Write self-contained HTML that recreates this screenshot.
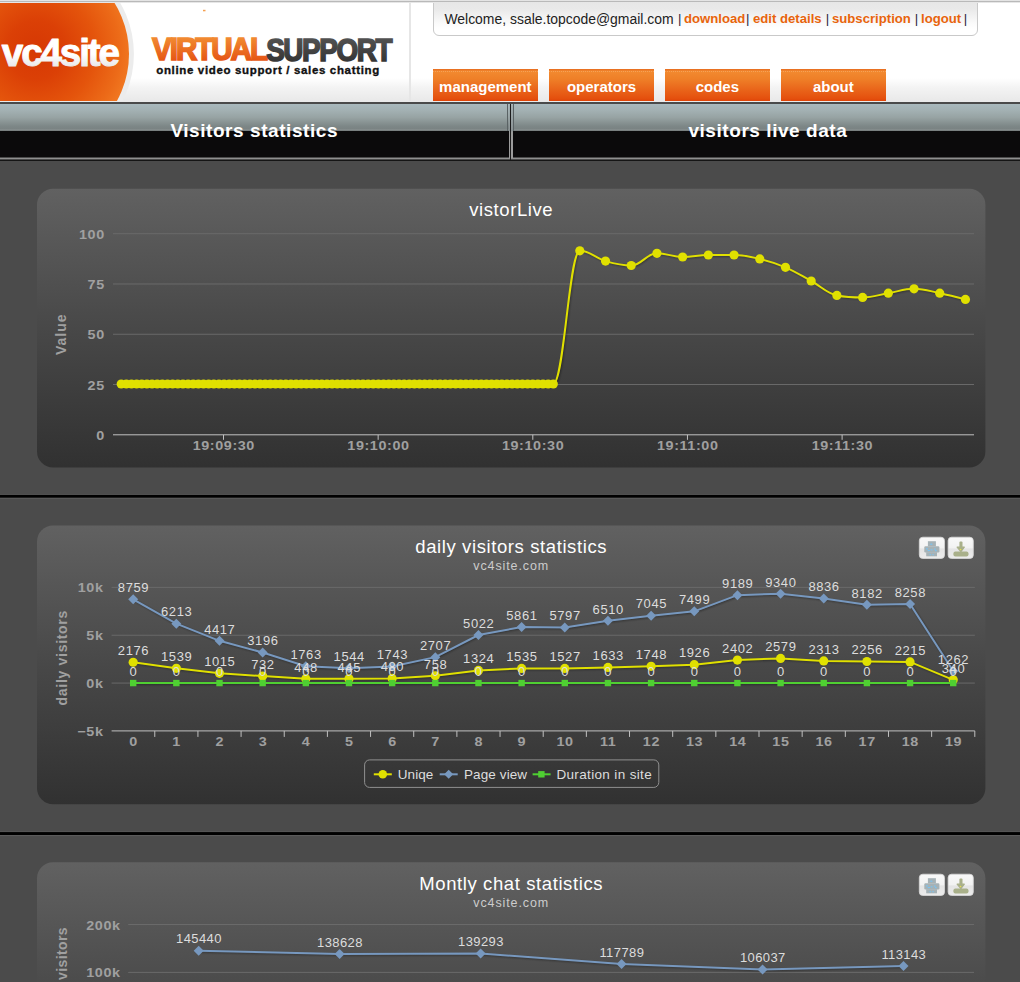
<!DOCTYPE html>
<html><head><meta charset="utf-8"><title>vc4site</title>
<style>
html,body{margin:0;padding:0;}
body{width:1020px;height:982px;overflow:hidden;background:#4b4b4b;position:relative;font-family:"Liberation Sans",sans-serif;}
.abs{position:absolute;}
#header{left:0;top:0;width:1020px;height:102px;background:linear-gradient(#fff 0,#fff 78px,#f3f3f3 88px,#e9e9e9 101px);}
#topline{left:0;top:0;width:1020px;height:3px;background:linear-gradient(#e6e6e6 0,#e2e2e2 1px,#b9b9b9 1.5px,#d8d8d8 2.2px,#fff 3px);}
#logo{left:0;top:0;}
#welcome{left:433px;top:-6px;width:544.5px;height:41.8px;border:1px solid #c9c9c9;border-radius:6px;background:linear-gradient(#e4e4e4 0,#e9e9e9 14px,#fafafa 28px,#fff 34px);box-sizing:border-box;}
.wtn{top:10.5px;white-space:nowrap;font-size:13.95px;color:#222;}
.wtb{top:10.9px;white-space:nowrap;font-size:13.6px;font-weight:bold;color:#e8640c;transform:scaleX(0.967);transform-origin:0 0;}
.wts{top:10.6px;font-size:13.2px;color:#2a2440;}
.nav{top:69.2px;height:31.8px;width:104.7px;background:linear-gradient(#e66a1e 0,#f28a30 7%,#ef8028 30%,#ea681c 60%,#e4500e 92%,#e04408 100%);color:#fff;font-weight:bold;font-size:15px;text-align:center;line-height:35.3px;}
.nav:before{content:"";position:absolute;left:0;right:0;top:2px;height:1px;border-top:1px dotted rgba(250,180,120,0.55);}
#darkline{left:0;top:102.4px;width:1020px;height:1.7px;background:#4a4a4a;}
#lightline{left:0;top:101px;width:1020px;height:1.4px;background:#eaeaea;}
.tab{top:104px;height:56px;box-sizing:border-box;}
.tabg{position:absolute;left:0;right:0;top:0;height:26.5px;background:linear-gradient(#a9b9bd 0,#a2b0b2 25%,#97a3a3 50%,#7d8787 82%,#7a8383 92%,#8c9494 97%,#5a5f5f 100%);}
.tabb{position:absolute;left:0;right:0;top:26.5px;height:26.5px;background:#0b0a0b;}
.tabbd{position:absolute;left:0;right:0;top:53.8px;height:1.7px;background:#8f8f8f;}
.vl{position:absolute;top:0.8px;width:1.7px;height:54.3px;background:linear-gradient(#a4b0b2,#8a9294 48%,#9c9c9c 50%,#9c9c9c);}
.vd{position:absolute;top:0;width:1.2px;height:26.5px;background:#5a6264;}
.tabt{position:absolute;left:0;right:0;top:15.7px;text-align:center;color:#fff;font-weight:bold;font-size:19px;letter-spacing:0.56px;white-space:nowrap;}
svg.charts{position:absolute;left:0;top:0;}
</style></head>
<body>
<div id="header" class="abs"></div>
<svg id="logo" class="abs" width="420" height="102" viewBox="0 0 420 102">
<defs>
<radialGradient id="og" cx="36" cy="50" r="98" gradientUnits="userSpaceOnUse"><stop offset="0" stop-color="#d63804"/><stop offset="0.3" stop-color="#db4006"/><stop offset="0.6" stop-color="#e4540c"/><stop offset="0.85" stop-color="#ec6a18"/><stop offset="1" stop-color="#f27a22"/></radialGradient>
<linearGradient id="vt" x1="0" y1="0" x2="0" y2="1"><stop offset="0" stop-color="#f59a3a"/><stop offset="1" stop-color="#e2460c"/></linearGradient>
<linearGradient id="st" x1="0" y1="0" x2="0" y2="1"><stop offset="0" stop-color="#5a5a5a"/><stop offset="1" stop-color="#2e2e2e"/></linearGradient>
<linearGradient id="wt" x1="0" y1="0" x2="0" y2="1"><stop offset="0.55" stop-color="#fff"/><stop offset="1" stop-color="#dcdcdc"/></linearGradient>
<clipPath id="hc"><rect x="0" y="2" width="420" height="99.2"/></clipPath>
</defs>
<g clip-path="url(#hc)">
<circle cx="31.4" cy="54" r="102.5" fill="#ececec"/>
<circle cx="31.4" cy="54" r="97.6" fill="url(#og)"/>
</g>
<text x="1.8" y="65.5" font-family="Liberation Sans" font-weight="bold" font-size="38.6" letter-spacing="-2.1" fill="url(#wt)" stroke="url(#wt)" stroke-width="1.0" stroke-linejoin="round">vc4site</text>
<text x="152" y="60" font-family="Liberation Sans" font-weight="bold" font-size="31.5" letter-spacing="-2.2" fill="url(#vt)" stroke="url(#vt)" stroke-width="1.6" textLength="114" lengthAdjust="spacingAndGlyphs">VIRTUAL</text>
<text x="266.2" y="60.5" font-family="Liberation Sans" font-weight="bold" font-size="31.5" letter-spacing="-1.6" fill="url(#st)" stroke="url(#st)" stroke-width="1.6" textLength="124.8" lengthAdjust="spacingAndGlyphs">SUPPORT</text>
<text x="156.2" y="73.9" font-family="Liberation Sans" font-weight="bold" font-size="11.5" fill="#111" stroke="#111" stroke-width="0.35" textLength="223" lengthAdjust="spacing">online video support / sales chatting</text>
<rect x="203" y="9.8" width="2.5" height="1.5" fill="#f5a050"/>
</svg>
<div class="abs" style="left:409.4px;top:2px;width:1.6px;height:99px;background:#e6e6e6"></div>
<div id="welcome" class="abs"></div>
<div class="wtn abs" style="left:444.4px">Welcome, ssale.topcode@gmail.com</div><div class="wts abs" style="left:677.9px">|</div><div class="wtb abs" style="left:683.9px">download</div><div class="wts abs" style="left:746.1px">|</div><div class="wtb abs" style="left:753.1px">edit details</div><div class="wts abs" style="left:825.7px">|</div><div class="wtb abs" style="left:832px">subscription</div><div class="wts abs" style="left:914.7px">|</div><div class="wtb abs" style="left:920.9px">logout</div><div class="wts abs" style="left:963.7px">|</div>
<div id="topline" class="abs"></div>
<div class="nav abs" style="left:433px">management</div>
<div class="nav abs" style="left:549.2px">operators</div>
<div class="nav abs" style="left:665px">codes</div>
<div class="nav abs" style="left:781px">about</div>
<div id="lightline" class="abs"></div>
<div id="darkline" class="abs"></div>
<div class="tab abs" style="left:0;width:510.2px;"><div class="tabg"></div><div class="tabb"></div><div class="tabt" style="left:-1.8px">Visitors statistics</div><div class="vd" style="left:507.3px"></div><div class="vl" style="left:508.5px"></div><div class="tabbd"></div></div>
<div class="abs" style="left:510.2px;top:104px;width:1.1px;height:56px;background:#1c1c1c"></div>
<div class="tab abs" style="left:511.3px;width:508.7px;"><div class="tabg"></div><div class="tabb"></div><div class="tabt" style="left:4.5px;top:16.1px">visitors live data</div><div class="vl" style="left:0"></div><div class="vd" style="left:1.7px"></div><div class="tabbd"></div></div>
<div class="abs" style="left:0;top:159.5px;width:1020px;height:1.2px;background:#151515"></div>
<svg class="charts" width="1020" height="982" viewBox="0 0 1020 982"><defs><linearGradient id="g" x1="0" y1="0" x2="0" y2="1"><stop offset="0" stop-color="#616161"/><stop offset="0.5" stop-color="#484848"/><stop offset="1" stop-color="#313131"/></linearGradient><linearGradient id="bt" x1="0" y1="0" x2="0" y2="1"><stop offset="0" stop-color="#f9f9f9"/><stop offset="0.5" stop-color="#f2f2f2"/><stop offset="0.55" stop-color="#e4e4e4"/><stop offset="1" stop-color="#ececec"/></linearGradient></defs><rect x="0" y="494" width="1020" height="1" fill="#585858"/><rect x="0" y="494.9" width="1020" height="2.9" fill="#000"/><rect x="0" y="497.8" width="1020" height="1.1" fill="#5a5a5a"/><rect x="0" y="831.2" width="1020" height="1" fill="#585858"/><rect x="0" y="832.1" width="1020" height="2.9" fill="#000"/><rect x="0" y="835" width="1020" height="1.1" fill="#5a5a5a"/><rect x="37" y="188.7" width="948.4" height="278.7" rx="16" ry="16" fill="url(#g)"/><text x="511.2" y="215.9" font-family="Liberation Sans" font-size="18.5" letter-spacing="0.6" fill="#fff" text-anchor="middle">vistorLive</text><rect x="113" y="233.2" width="861" height="1" fill="#6a6a6a"/><rect x="113" y="283.48" width="861" height="1" fill="#6a6a6a"/><rect x="113" y="333.75" width="861" height="1" fill="#6a6a6a"/><rect x="113" y="384.02" width="861" height="1" fill="#6a6a6a"/><rect x="113" y="434.3" width="861" height="1" fill="#c0c0c0"/><text transform="translate(104.8 440) scale(1.15 1)" font-family="Liberation Sans" font-size="12.5" font-weight="bold" letter-spacing="0.52" fill="#a0a0a0" text-anchor="end">0</text><text transform="translate(104.8 389.72) scale(1.15 1)" font-family="Liberation Sans" font-size="12.5" font-weight="bold" letter-spacing="0.52" fill="#a0a0a0" text-anchor="end">25</text><text transform="translate(104.8 339.45) scale(1.15 1)" font-family="Liberation Sans" font-size="12.5" font-weight="bold" letter-spacing="0.52" fill="#a0a0a0" text-anchor="end">50</text><text transform="translate(104.8 289.18) scale(1.15 1)" font-family="Liberation Sans" font-size="12.5" font-weight="bold" letter-spacing="0.52" fill="#a0a0a0" text-anchor="end">75</text><text transform="translate(104.8 238.9) scale(1.15 1)" font-family="Liberation Sans" font-size="12.5" font-weight="bold" letter-spacing="0.52" fill="#a0a0a0" text-anchor="end">100</text><rect x="223" y="434.8" width="1" height="5" fill="#c0c0c0"/><text transform="translate(223.8 449.9) scale(1.15 1)" font-family="Liberation Sans" font-size="12.5" font-weight="bold" letter-spacing="0.52" fill="#a0a0a0" text-anchor="middle">19:09:30</text><rect x="377.65" y="434.8" width="1" height="5" fill="#c0c0c0"/><text transform="translate(378.45 449.9) scale(1.15 1)" font-family="Liberation Sans" font-size="12.5" font-weight="bold" letter-spacing="0.52" fill="#a0a0a0" text-anchor="middle">19:10:00</text><rect x="532.3" y="434.8" width="1" height="5" fill="#c0c0c0"/><text transform="translate(533.1 449.9) scale(1.15 1)" font-family="Liberation Sans" font-size="12.5" font-weight="bold" letter-spacing="0.52" fill="#a0a0a0" text-anchor="middle">19:10:30</text><rect x="686.95" y="434.8" width="1" height="5" fill="#c0c0c0"/><text transform="translate(687.75 449.9) scale(1.15 1)" font-family="Liberation Sans" font-size="12.5" font-weight="bold" letter-spacing="0.52" fill="#a0a0a0" text-anchor="middle">19:11:00</text><rect x="841.6" y="434.8" width="1" height="5" fill="#c0c0c0"/><text transform="translate(842.4 449.9) scale(1.15 1)" font-family="Liberation Sans" font-size="12.5" font-weight="bold" letter-spacing="0.52" fill="#a0a0a0" text-anchor="middle">19:11:30</text><text transform="translate(66.2 334.2) rotate(-90)" x="0" y="0" font-family="Liberation Sans" font-size="14" font-weight="bold" letter-spacing="1" fill="#a0a0a0" text-anchor="middle">Value</text><g transform="translate(1 1)" fill="none" stroke="#000"><path d="M121.2 384 C121.2 384 124.29 384 126.34 384 C128.4 384 129.43 384 131.49 384 C133.55 384 134.57 384 136.63 384 C138.69 384 139.72 384 141.78 384 C143.83 384 144.86 384 146.92 384 C148.98 384 150.01 384 152.06 384 C154.12 384 155.15 384 157.21 384 C159.27 384 160.29 384 162.35 384 C164.41 384 165.44 384 167.5 384 C169.55 384 170.58 384 172.64 384 C174.7 384 175.73 384 177.78 384 C179.84 384 180.87 384 182.93 384 C184.99 384 186.01 384 188.07 384 C190.13 384 191.16 384 193.22 384 C195.27 384 196.3 384 198.36 384 C200.42 384 201.45 384 203.5 384 C205.56 384 206.59 384 208.65 384 C210.71 384 211.73 384 213.79 384 C215.85 384 216.88 384 218.94 384 C220.99 384 222.02 384 224.08 384 C226.14 384 227.17 384 229.22 384 C231.28 384 232.31 384 234.37 384 C236.43 384 237.45 384 239.51 384 C241.57 384 242.6 384 244.66 384 C246.71 384 247.74 384 249.8 384 C251.86 384 252.89 384 254.94 384 C257 384 258.03 384 260.09 384 C262.15 384 263.17 384 265.23 384 C267.29 384 268.32 384 270.38 384 C272.43 384 273.46 384 275.52 384 C277.58 384 278.61 384 280.66 384 C282.72 384 283.75 384 285.81 384 C287.87 384 288.89 384 290.95 384 C293.01 384 294.04 384 296.1 384 C298.15 384 299.18 384 301.24 384 C303.3 384 304.33 384 306.38 384 C308.44 384 309.47 384 311.53 384 C313.59 384 314.61 384 316.67 384 C318.73 384 319.76 384 321.82 384 C323.87 384 324.9 384 326.96 384 C329.02 384 330.05 384 332.1 384 C334.16 384 335.19 384 337.25 384 C339.31 384 340.33 384 342.39 384 C344.45 384 345.48 384 347.54 384 C349.59 384 350.62 384 352.68 384 C354.74 384 355.77 384 357.82 384 C359.88 384 360.91 384 362.97 384 C365.03 384 366.05 384 368.11 384 C370.17 384 371.2 384 373.26 384 C375.31 384 376.34 384 378.4 384 C380.46 384 381.49 384 383.54 384 C385.6 384 386.63 384 388.69 384 C390.75 384 391.77 384 393.83 384 C395.89 384 396.92 384 398.98 384 C401.03 384 402.06 384 404.12 384 C406.18 384 407.21 384 409.26 384 C411.32 384 412.35 384 414.41 384 C416.47 384 417.49 384 419.55 384 C421.61 384 422.64 384 424.7 384 C426.75 384 427.78 384 429.84 384 C431.9 384 432.93 384 434.98 384 C437.04 384 438.07 384 440.13 384 C442.19 384 443.21 384 445.27 384 C447.33 384 448.36 384 450.42 384 C452.47 384 453.5 384 455.56 384 C457.62 384 458.65 384 460.7 384 C462.76 384 463.79 384 465.85 384 C467.91 384 468.93 384 470.99 384 C473.05 384 474.08 384 476.14 384 C478.19 384 479.22 384 481.28 384 C483.34 384 484.37 384 486.42 384 C488.48 384 489.51 384 491.57 384 C493.63 384 494.65 384 496.71 384 C498.77 384 499.8 384 501.86 384 C503.91 384 504.94 384 507 384 C509.06 384 510.09 384 512.14 384 C514.2 384 515.23 384 517.29 384 C519.35 384 520.37 384 522.43 384 C524.49 384 525.52 384 527.58 384 C529.63 384 530.66 384 532.72 384 C534.78 384 535.81 384 537.86 384 C539.92 384 540.95 384 543.01 384 C545.07 384 546.09 384 548.15 384 C550.21 384 551.24 384 553.3 384 C563.9 384 569.2 250.8 579.8 250.8 C590.08 250.8 595.23 258.16 605.51 261.1 C615.79 264.04 620.94 265.5 631.22 265.5 C641.5 265.5 646.65 253.3 656.93 253.3 C667.21 253.3 672.36 257 682.64 257 C692.92 257 698.07 255 708.35 255 C718.63 255 723.78 255 734.06 255 C744.34 255 749.49 256.44 759.77 258.9 C770.05 261.36 775.2 262.88 785.48 267.3 C795.76 271.72 800.91 275.38 811.19 281 C821.47 286.62 826.62 293.4 836.9 295.4 C847.18 297.4 852.33 297.4 862.61 297.4 C872.89 297.4 878.04 294.92 888.32 293.2 C898.6 291.48 903.75 288.8 914.03 288.8 C924.31 288.8 929.46 291.08 939.74 293.2 C950.02 295.32 965.45 299.4 965.45 299.4" stroke-opacity="0.05" stroke-width="5"/><path d="M121.2 384 C121.2 384 124.29 384 126.34 384 C128.4 384 129.43 384 131.49 384 C133.55 384 134.57 384 136.63 384 C138.69 384 139.72 384 141.78 384 C143.83 384 144.86 384 146.92 384 C148.98 384 150.01 384 152.06 384 C154.12 384 155.15 384 157.21 384 C159.27 384 160.29 384 162.35 384 C164.41 384 165.44 384 167.5 384 C169.55 384 170.58 384 172.64 384 C174.7 384 175.73 384 177.78 384 C179.84 384 180.87 384 182.93 384 C184.99 384 186.01 384 188.07 384 C190.13 384 191.16 384 193.22 384 C195.27 384 196.3 384 198.36 384 C200.42 384 201.45 384 203.5 384 C205.56 384 206.59 384 208.65 384 C210.71 384 211.73 384 213.79 384 C215.85 384 216.88 384 218.94 384 C220.99 384 222.02 384 224.08 384 C226.14 384 227.17 384 229.22 384 C231.28 384 232.31 384 234.37 384 C236.43 384 237.45 384 239.51 384 C241.57 384 242.6 384 244.66 384 C246.71 384 247.74 384 249.8 384 C251.86 384 252.89 384 254.94 384 C257 384 258.03 384 260.09 384 C262.15 384 263.17 384 265.23 384 C267.29 384 268.32 384 270.38 384 C272.43 384 273.46 384 275.52 384 C277.58 384 278.61 384 280.66 384 C282.72 384 283.75 384 285.81 384 C287.87 384 288.89 384 290.95 384 C293.01 384 294.04 384 296.1 384 C298.15 384 299.18 384 301.24 384 C303.3 384 304.33 384 306.38 384 C308.44 384 309.47 384 311.53 384 C313.59 384 314.61 384 316.67 384 C318.73 384 319.76 384 321.82 384 C323.87 384 324.9 384 326.96 384 C329.02 384 330.05 384 332.1 384 C334.16 384 335.19 384 337.25 384 C339.31 384 340.33 384 342.39 384 C344.45 384 345.48 384 347.54 384 C349.59 384 350.62 384 352.68 384 C354.74 384 355.77 384 357.82 384 C359.88 384 360.91 384 362.97 384 C365.03 384 366.05 384 368.11 384 C370.17 384 371.2 384 373.26 384 C375.31 384 376.34 384 378.4 384 C380.46 384 381.49 384 383.54 384 C385.6 384 386.63 384 388.69 384 C390.75 384 391.77 384 393.83 384 C395.89 384 396.92 384 398.98 384 C401.03 384 402.06 384 404.12 384 C406.18 384 407.21 384 409.26 384 C411.32 384 412.35 384 414.41 384 C416.47 384 417.49 384 419.55 384 C421.61 384 422.64 384 424.7 384 C426.75 384 427.78 384 429.84 384 C431.9 384 432.93 384 434.98 384 C437.04 384 438.07 384 440.13 384 C442.19 384 443.21 384 445.27 384 C447.33 384 448.36 384 450.42 384 C452.47 384 453.5 384 455.56 384 C457.62 384 458.65 384 460.7 384 C462.76 384 463.79 384 465.85 384 C467.91 384 468.93 384 470.99 384 C473.05 384 474.08 384 476.14 384 C478.19 384 479.22 384 481.28 384 C483.34 384 484.37 384 486.42 384 C488.48 384 489.51 384 491.57 384 C493.63 384 494.65 384 496.71 384 C498.77 384 499.8 384 501.86 384 C503.91 384 504.94 384 507 384 C509.06 384 510.09 384 512.14 384 C514.2 384 515.23 384 517.29 384 C519.35 384 520.37 384 522.43 384 C524.49 384 525.52 384 527.58 384 C529.63 384 530.66 384 532.72 384 C534.78 384 535.81 384 537.86 384 C539.92 384 540.95 384 543.01 384 C545.07 384 546.09 384 548.15 384 C550.21 384 551.24 384 553.3 384 C563.9 384 569.2 250.8 579.8 250.8 C590.08 250.8 595.23 258.16 605.51 261.1 C615.79 264.04 620.94 265.5 631.22 265.5 C641.5 265.5 646.65 253.3 656.93 253.3 C667.21 253.3 672.36 257 682.64 257 C692.92 257 698.07 255 708.35 255 C718.63 255 723.78 255 734.06 255 C744.34 255 749.49 256.44 759.77 258.9 C770.05 261.36 775.2 262.88 785.48 267.3 C795.76 271.72 800.91 275.38 811.19 281 C821.47 286.62 826.62 293.4 836.9 295.4 C847.18 297.4 852.33 297.4 862.61 297.4 C872.89 297.4 878.04 294.92 888.32 293.2 C898.6 291.48 903.75 288.8 914.03 288.8 C924.31 288.8 929.46 291.08 939.74 293.2 C950.02 295.32 965.45 299.4 965.45 299.4" stroke-opacity="0.1" stroke-width="3"/><path d="M121.2 384 C121.2 384 124.29 384 126.34 384 C128.4 384 129.43 384 131.49 384 C133.55 384 134.57 384 136.63 384 C138.69 384 139.72 384 141.78 384 C143.83 384 144.86 384 146.92 384 C148.98 384 150.01 384 152.06 384 C154.12 384 155.15 384 157.21 384 C159.27 384 160.29 384 162.35 384 C164.41 384 165.44 384 167.5 384 C169.55 384 170.58 384 172.64 384 C174.7 384 175.73 384 177.78 384 C179.84 384 180.87 384 182.93 384 C184.99 384 186.01 384 188.07 384 C190.13 384 191.16 384 193.22 384 C195.27 384 196.3 384 198.36 384 C200.42 384 201.45 384 203.5 384 C205.56 384 206.59 384 208.65 384 C210.71 384 211.73 384 213.79 384 C215.85 384 216.88 384 218.94 384 C220.99 384 222.02 384 224.08 384 C226.14 384 227.17 384 229.22 384 C231.28 384 232.31 384 234.37 384 C236.43 384 237.45 384 239.51 384 C241.57 384 242.6 384 244.66 384 C246.71 384 247.74 384 249.8 384 C251.86 384 252.89 384 254.94 384 C257 384 258.03 384 260.09 384 C262.15 384 263.17 384 265.23 384 C267.29 384 268.32 384 270.38 384 C272.43 384 273.46 384 275.52 384 C277.58 384 278.61 384 280.66 384 C282.72 384 283.75 384 285.81 384 C287.87 384 288.89 384 290.95 384 C293.01 384 294.04 384 296.1 384 C298.15 384 299.18 384 301.24 384 C303.3 384 304.33 384 306.38 384 C308.44 384 309.47 384 311.53 384 C313.59 384 314.61 384 316.67 384 C318.73 384 319.76 384 321.82 384 C323.87 384 324.9 384 326.96 384 C329.02 384 330.05 384 332.1 384 C334.16 384 335.19 384 337.25 384 C339.31 384 340.33 384 342.39 384 C344.45 384 345.48 384 347.54 384 C349.59 384 350.62 384 352.68 384 C354.74 384 355.77 384 357.82 384 C359.88 384 360.91 384 362.97 384 C365.03 384 366.05 384 368.11 384 C370.17 384 371.2 384 373.26 384 C375.31 384 376.34 384 378.4 384 C380.46 384 381.49 384 383.54 384 C385.6 384 386.63 384 388.69 384 C390.75 384 391.77 384 393.83 384 C395.89 384 396.92 384 398.98 384 C401.03 384 402.06 384 404.12 384 C406.18 384 407.21 384 409.26 384 C411.32 384 412.35 384 414.41 384 C416.47 384 417.49 384 419.55 384 C421.61 384 422.64 384 424.7 384 C426.75 384 427.78 384 429.84 384 C431.9 384 432.93 384 434.98 384 C437.04 384 438.07 384 440.13 384 C442.19 384 443.21 384 445.27 384 C447.33 384 448.36 384 450.42 384 C452.47 384 453.5 384 455.56 384 C457.62 384 458.65 384 460.7 384 C462.76 384 463.79 384 465.85 384 C467.91 384 468.93 384 470.99 384 C473.05 384 474.08 384 476.14 384 C478.19 384 479.22 384 481.28 384 C483.34 384 484.37 384 486.42 384 C488.48 384 489.51 384 491.57 384 C493.63 384 494.65 384 496.71 384 C498.77 384 499.8 384 501.86 384 C503.91 384 504.94 384 507 384 C509.06 384 510.09 384 512.14 384 C514.2 384 515.23 384 517.29 384 C519.35 384 520.37 384 522.43 384 C524.49 384 525.52 384 527.58 384 C529.63 384 530.66 384 532.72 384 C534.78 384 535.81 384 537.86 384 C539.92 384 540.95 384 543.01 384 C545.07 384 546.09 384 548.15 384 C550.21 384 551.24 384 553.3 384 C563.9 384 569.2 250.8 579.8 250.8 C590.08 250.8 595.23 258.16 605.51 261.1 C615.79 264.04 620.94 265.5 631.22 265.5 C641.5 265.5 646.65 253.3 656.93 253.3 C667.21 253.3 672.36 257 682.64 257 C692.92 257 698.07 255 708.35 255 C718.63 255 723.78 255 734.06 255 C744.34 255 749.49 256.44 759.77 258.9 C770.05 261.36 775.2 262.88 785.48 267.3 C795.76 271.72 800.91 275.38 811.19 281 C821.47 286.62 826.62 293.4 836.9 295.4 C847.18 297.4 852.33 297.4 862.61 297.4 C872.89 297.4 878.04 294.92 888.32 293.2 C898.6 291.48 903.75 288.8 914.03 288.8 C924.31 288.8 929.46 291.08 939.74 293.2 C950.02 295.32 965.45 299.4 965.45 299.4" stroke-opacity="0.15" stroke-width="1"/></g><path d="M121.2 384 C121.2 384 124.29 384 126.34 384 C128.4 384 129.43 384 131.49 384 C133.55 384 134.57 384 136.63 384 C138.69 384 139.72 384 141.78 384 C143.83 384 144.86 384 146.92 384 C148.98 384 150.01 384 152.06 384 C154.12 384 155.15 384 157.21 384 C159.27 384 160.29 384 162.35 384 C164.41 384 165.44 384 167.5 384 C169.55 384 170.58 384 172.64 384 C174.7 384 175.73 384 177.78 384 C179.84 384 180.87 384 182.93 384 C184.99 384 186.01 384 188.07 384 C190.13 384 191.16 384 193.22 384 C195.27 384 196.3 384 198.36 384 C200.42 384 201.45 384 203.5 384 C205.56 384 206.59 384 208.65 384 C210.71 384 211.73 384 213.79 384 C215.85 384 216.88 384 218.94 384 C220.99 384 222.02 384 224.08 384 C226.14 384 227.17 384 229.22 384 C231.28 384 232.31 384 234.37 384 C236.43 384 237.45 384 239.51 384 C241.57 384 242.6 384 244.66 384 C246.71 384 247.74 384 249.8 384 C251.86 384 252.89 384 254.94 384 C257 384 258.03 384 260.09 384 C262.15 384 263.17 384 265.23 384 C267.29 384 268.32 384 270.38 384 C272.43 384 273.46 384 275.52 384 C277.58 384 278.61 384 280.66 384 C282.72 384 283.75 384 285.81 384 C287.87 384 288.89 384 290.95 384 C293.01 384 294.04 384 296.1 384 C298.15 384 299.18 384 301.24 384 C303.3 384 304.33 384 306.38 384 C308.44 384 309.47 384 311.53 384 C313.59 384 314.61 384 316.67 384 C318.73 384 319.76 384 321.82 384 C323.87 384 324.9 384 326.96 384 C329.02 384 330.05 384 332.1 384 C334.16 384 335.19 384 337.25 384 C339.31 384 340.33 384 342.39 384 C344.45 384 345.48 384 347.54 384 C349.59 384 350.62 384 352.68 384 C354.74 384 355.77 384 357.82 384 C359.88 384 360.91 384 362.97 384 C365.03 384 366.05 384 368.11 384 C370.17 384 371.2 384 373.26 384 C375.31 384 376.34 384 378.4 384 C380.46 384 381.49 384 383.54 384 C385.6 384 386.63 384 388.69 384 C390.75 384 391.77 384 393.83 384 C395.89 384 396.92 384 398.98 384 C401.03 384 402.06 384 404.12 384 C406.18 384 407.21 384 409.26 384 C411.32 384 412.35 384 414.41 384 C416.47 384 417.49 384 419.55 384 C421.61 384 422.64 384 424.7 384 C426.75 384 427.78 384 429.84 384 C431.9 384 432.93 384 434.98 384 C437.04 384 438.07 384 440.13 384 C442.19 384 443.21 384 445.27 384 C447.33 384 448.36 384 450.42 384 C452.47 384 453.5 384 455.56 384 C457.62 384 458.65 384 460.7 384 C462.76 384 463.79 384 465.85 384 C467.91 384 468.93 384 470.99 384 C473.05 384 474.08 384 476.14 384 C478.19 384 479.22 384 481.28 384 C483.34 384 484.37 384 486.42 384 C488.48 384 489.51 384 491.57 384 C493.63 384 494.65 384 496.71 384 C498.77 384 499.8 384 501.86 384 C503.91 384 504.94 384 507 384 C509.06 384 510.09 384 512.14 384 C514.2 384 515.23 384 517.29 384 C519.35 384 520.37 384 522.43 384 C524.49 384 525.52 384 527.58 384 C529.63 384 530.66 384 532.72 384 C534.78 384 535.81 384 537.86 384 C539.92 384 540.95 384 543.01 384 C545.07 384 546.09 384 548.15 384 C550.21 384 551.24 384 553.3 384 C563.9 384 569.2 250.8 579.8 250.8 C590.08 250.8 595.23 258.16 605.51 261.1 C615.79 264.04 620.94 265.5 631.22 265.5 C641.5 265.5 646.65 253.3 656.93 253.3 C667.21 253.3 672.36 257 682.64 257 C692.92 257 698.07 255 708.35 255 C718.63 255 723.78 255 734.06 255 C744.34 255 749.49 256.44 759.77 258.9 C770.05 261.36 775.2 262.88 785.48 267.3 C795.76 271.72 800.91 275.38 811.19 281 C821.47 286.62 826.62 293.4 836.9 295.4 C847.18 297.4 852.33 297.4 862.61 297.4 C872.89 297.4 878.04 294.92 888.32 293.2 C898.6 291.48 903.75 288.8 914.03 288.8 C924.31 288.8 929.46 291.08 939.74 293.2 C950.02 295.32 965.45 299.4 965.45 299.4" fill="none" stroke="#e0e000" stroke-width="2"/><circle cx="121.2" cy="384" r="4.6" fill="#e0e000"/><circle cx="126.34" cy="384" r="4.6" fill="#e0e000"/><circle cx="131.49" cy="384" r="4.6" fill="#e0e000"/><circle cx="136.63" cy="384" r="4.6" fill="#e0e000"/><circle cx="141.78" cy="384" r="4.6" fill="#e0e000"/><circle cx="146.92" cy="384" r="4.6" fill="#e0e000"/><circle cx="152.06" cy="384" r="4.6" fill="#e0e000"/><circle cx="157.21" cy="384" r="4.6" fill="#e0e000"/><circle cx="162.35" cy="384" r="4.6" fill="#e0e000"/><circle cx="167.5" cy="384" r="4.6" fill="#e0e000"/><circle cx="172.64" cy="384" r="4.6" fill="#e0e000"/><circle cx="177.78" cy="384" r="4.6" fill="#e0e000"/><circle cx="182.93" cy="384" r="4.6" fill="#e0e000"/><circle cx="188.07" cy="384" r="4.6" fill="#e0e000"/><circle cx="193.22" cy="384" r="4.6" fill="#e0e000"/><circle cx="198.36" cy="384" r="4.6" fill="#e0e000"/><circle cx="203.5" cy="384" r="4.6" fill="#e0e000"/><circle cx="208.65" cy="384" r="4.6" fill="#e0e000"/><circle cx="213.79" cy="384" r="4.6" fill="#e0e000"/><circle cx="218.94" cy="384" r="4.6" fill="#e0e000"/><circle cx="224.08" cy="384" r="4.6" fill="#e0e000"/><circle cx="229.22" cy="384" r="4.6" fill="#e0e000"/><circle cx="234.37" cy="384" r="4.6" fill="#e0e000"/><circle cx="239.51" cy="384" r="4.6" fill="#e0e000"/><circle cx="244.66" cy="384" r="4.6" fill="#e0e000"/><circle cx="249.8" cy="384" r="4.6" fill="#e0e000"/><circle cx="254.94" cy="384" r="4.6" fill="#e0e000"/><circle cx="260.09" cy="384" r="4.6" fill="#e0e000"/><circle cx="265.23" cy="384" r="4.6" fill="#e0e000"/><circle cx="270.38" cy="384" r="4.6" fill="#e0e000"/><circle cx="275.52" cy="384" r="4.6" fill="#e0e000"/><circle cx="280.66" cy="384" r="4.6" fill="#e0e000"/><circle cx="285.81" cy="384" r="4.6" fill="#e0e000"/><circle cx="290.95" cy="384" r="4.6" fill="#e0e000"/><circle cx="296.1" cy="384" r="4.6" fill="#e0e000"/><circle cx="301.24" cy="384" r="4.6" fill="#e0e000"/><circle cx="306.38" cy="384" r="4.6" fill="#e0e000"/><circle cx="311.53" cy="384" r="4.6" fill="#e0e000"/><circle cx="316.67" cy="384" r="4.6" fill="#e0e000"/><circle cx="321.82" cy="384" r="4.6" fill="#e0e000"/><circle cx="326.96" cy="384" r="4.6" fill="#e0e000"/><circle cx="332.1" cy="384" r="4.6" fill="#e0e000"/><circle cx="337.25" cy="384" r="4.6" fill="#e0e000"/><circle cx="342.39" cy="384" r="4.6" fill="#e0e000"/><circle cx="347.54" cy="384" r="4.6" fill="#e0e000"/><circle cx="352.68" cy="384" r="4.6" fill="#e0e000"/><circle cx="357.82" cy="384" r="4.6" fill="#e0e000"/><circle cx="362.97" cy="384" r="4.6" fill="#e0e000"/><circle cx="368.11" cy="384" r="4.6" fill="#e0e000"/><circle cx="373.26" cy="384" r="4.6" fill="#e0e000"/><circle cx="378.4" cy="384" r="4.6" fill="#e0e000"/><circle cx="383.54" cy="384" r="4.6" fill="#e0e000"/><circle cx="388.69" cy="384" r="4.6" fill="#e0e000"/><circle cx="393.83" cy="384" r="4.6" fill="#e0e000"/><circle cx="398.98" cy="384" r="4.6" fill="#e0e000"/><circle cx="404.12" cy="384" r="4.6" fill="#e0e000"/><circle cx="409.26" cy="384" r="4.6" fill="#e0e000"/><circle cx="414.41" cy="384" r="4.6" fill="#e0e000"/><circle cx="419.55" cy="384" r="4.6" fill="#e0e000"/><circle cx="424.7" cy="384" r="4.6" fill="#e0e000"/><circle cx="429.84" cy="384" r="4.6" fill="#e0e000"/><circle cx="434.98" cy="384" r="4.6" fill="#e0e000"/><circle cx="440.13" cy="384" r="4.6" fill="#e0e000"/><circle cx="445.27" cy="384" r="4.6" fill="#e0e000"/><circle cx="450.42" cy="384" r="4.6" fill="#e0e000"/><circle cx="455.56" cy="384" r="4.6" fill="#e0e000"/><circle cx="460.7" cy="384" r="4.6" fill="#e0e000"/><circle cx="465.85" cy="384" r="4.6" fill="#e0e000"/><circle cx="470.99" cy="384" r="4.6" fill="#e0e000"/><circle cx="476.14" cy="384" r="4.6" fill="#e0e000"/><circle cx="481.28" cy="384" r="4.6" fill="#e0e000"/><circle cx="486.42" cy="384" r="4.6" fill="#e0e000"/><circle cx="491.57" cy="384" r="4.6" fill="#e0e000"/><circle cx="496.71" cy="384" r="4.6" fill="#e0e000"/><circle cx="501.86" cy="384" r="4.6" fill="#e0e000"/><circle cx="507" cy="384" r="4.6" fill="#e0e000"/><circle cx="512.14" cy="384" r="4.6" fill="#e0e000"/><circle cx="517.29" cy="384" r="4.6" fill="#e0e000"/><circle cx="522.43" cy="384" r="4.6" fill="#e0e000"/><circle cx="527.58" cy="384" r="4.6" fill="#e0e000"/><circle cx="532.72" cy="384" r="4.6" fill="#e0e000"/><circle cx="537.86" cy="384" r="4.6" fill="#e0e000"/><circle cx="543.01" cy="384" r="4.6" fill="#e0e000"/><circle cx="548.15" cy="384" r="4.6" fill="#e0e000"/><circle cx="553.3" cy="384" r="4.6" fill="#e0e000"/><circle cx="579.8" cy="250.8" r="4.6" fill="#e0e000"/><circle cx="605.51" cy="261.1" r="4.6" fill="#e0e000"/><circle cx="631.22" cy="265.5" r="4.6" fill="#e0e000"/><circle cx="656.93" cy="253.3" r="4.6" fill="#e0e000"/><circle cx="682.64" cy="257" r="4.6" fill="#e0e000"/><circle cx="708.35" cy="255" r="4.6" fill="#e0e000"/><circle cx="734.06" cy="255" r="4.6" fill="#e0e000"/><circle cx="759.77" cy="258.9" r="4.6" fill="#e0e000"/><circle cx="785.48" cy="267.3" r="4.6" fill="#e0e000"/><circle cx="811.19" cy="281" r="4.6" fill="#e0e000"/><circle cx="836.9" cy="295.4" r="4.6" fill="#e0e000"/><circle cx="862.61" cy="297.4" r="4.6" fill="#e0e000"/><circle cx="888.32" cy="293.2" r="4.6" fill="#e0e000"/><circle cx="914.03" cy="288.8" r="4.6" fill="#e0e000"/><circle cx="939.74" cy="293.2" r="4.6" fill="#e0e000"/><circle cx="965.45" cy="299.4" r="4.6" fill="#e0e000"/><rect x="37" y="525.5" width="948.4" height="278.7" rx="16" ry="16" fill="url(#g)"/><text x="511.2" y="553.3" font-family="Liberation Sans" font-size="18.5" letter-spacing="0.6" fill="#fff" text-anchor="middle">daily visitors statistics</text><text x="511.2" y="570.3" font-family="Liberation Sans" font-size="12.5" letter-spacing="0.9" fill="#ccc" text-anchor="middle">vc4site.com</text><rect x="111.6" y="586.9" width="863.2" height="1" fill="#6a6a6a"/><rect x="111.6" y="634.73" width="863.2" height="1" fill="#6a6a6a"/><rect x="111.6" y="682.57" width="863.2" height="1" fill="#6a6a6a"/><rect x="111.6" y="730.4" width="863.2" height="1" fill="#c0c0c0"/><text transform="translate(103.5 592.4) scale(1.15 1)" font-family="Liberation Sans" font-size="12.5" font-weight="bold" letter-spacing="0.52" fill="#a0a0a0" text-anchor="end">10k</text><text transform="translate(103.5 640.23) scale(1.15 1)" font-family="Liberation Sans" font-size="12.5" font-weight="bold" letter-spacing="0.52" fill="#a0a0a0" text-anchor="end">5k</text><text transform="translate(103.5 688.07) scale(1.15 1)" font-family="Liberation Sans" font-size="12.5" font-weight="bold" letter-spacing="0.52" fill="#a0a0a0" text-anchor="end">0k</text><text transform="translate(103.5 735.9) scale(1.15 1)" font-family="Liberation Sans" font-size="12.5" font-weight="bold" letter-spacing="0.52" fill="#a0a0a0" text-anchor="end">−5k</text><rect x="154.26" y="730.9" width="1" height="6" fill="#c0c0c0"/><rect x="197.42" y="730.9" width="1" height="6" fill="#c0c0c0"/><rect x="240.58" y="730.9" width="1" height="6" fill="#c0c0c0"/><rect x="283.74" y="730.9" width="1" height="6" fill="#c0c0c0"/><rect x="326.9" y="730.9" width="1" height="6" fill="#c0c0c0"/><rect x="370.06" y="730.9" width="1" height="6" fill="#c0c0c0"/><rect x="413.22" y="730.9" width="1" height="6" fill="#c0c0c0"/><rect x="456.38" y="730.9" width="1" height="6" fill="#c0c0c0"/><rect x="499.54" y="730.9" width="1" height="6" fill="#c0c0c0"/><rect x="542.7" y="730.9" width="1" height="6" fill="#c0c0c0"/><rect x="585.86" y="730.9" width="1" height="6" fill="#c0c0c0"/><rect x="629.02" y="730.9" width="1" height="6" fill="#c0c0c0"/><rect x="672.18" y="730.9" width="1" height="6" fill="#c0c0c0"/><rect x="715.34" y="730.9" width="1" height="6" fill="#c0c0c0"/><rect x="758.5" y="730.9" width="1" height="6" fill="#c0c0c0"/><rect x="801.66" y="730.9" width="1" height="6" fill="#c0c0c0"/><rect x="844.82" y="730.9" width="1" height="6" fill="#c0c0c0"/><rect x="887.98" y="730.9" width="1" height="6" fill="#c0c0c0"/><rect x="931.14" y="730.9" width="1" height="6" fill="#c0c0c0"/><rect x="974.3" y="730.9" width="1" height="6" fill="#c0c0c0"/><text transform="translate(133.48 746.4) scale(1.15 1)" font-family="Liberation Sans" font-size="12.5" font-weight="bold" letter-spacing="0.52" fill="#a0a0a0" text-anchor="middle">0</text><text transform="translate(176.64 746.4) scale(1.15 1)" font-family="Liberation Sans" font-size="12.5" font-weight="bold" letter-spacing="0.52" fill="#a0a0a0" text-anchor="middle">1</text><text transform="translate(219.8 746.4) scale(1.15 1)" font-family="Liberation Sans" font-size="12.5" font-weight="bold" letter-spacing="0.52" fill="#a0a0a0" text-anchor="middle">2</text><text transform="translate(262.96 746.4) scale(1.15 1)" font-family="Liberation Sans" font-size="12.5" font-weight="bold" letter-spacing="0.52" fill="#a0a0a0" text-anchor="middle">3</text><text transform="translate(306.12 746.4) scale(1.15 1)" font-family="Liberation Sans" font-size="12.5" font-weight="bold" letter-spacing="0.52" fill="#a0a0a0" text-anchor="middle">4</text><text transform="translate(349.28 746.4) scale(1.15 1)" font-family="Liberation Sans" font-size="12.5" font-weight="bold" letter-spacing="0.52" fill="#a0a0a0" text-anchor="middle">5</text><text transform="translate(392.44 746.4) scale(1.15 1)" font-family="Liberation Sans" font-size="12.5" font-weight="bold" letter-spacing="0.52" fill="#a0a0a0" text-anchor="middle">6</text><text transform="translate(435.6 746.4) scale(1.15 1)" font-family="Liberation Sans" font-size="12.5" font-weight="bold" letter-spacing="0.52" fill="#a0a0a0" text-anchor="middle">7</text><text transform="translate(478.76 746.4) scale(1.15 1)" font-family="Liberation Sans" font-size="12.5" font-weight="bold" letter-spacing="0.52" fill="#a0a0a0" text-anchor="middle">8</text><text transform="translate(521.92 746.4) scale(1.15 1)" font-family="Liberation Sans" font-size="12.5" font-weight="bold" letter-spacing="0.52" fill="#a0a0a0" text-anchor="middle">9</text><text transform="translate(565.08 746.4) scale(1.15 1)" font-family="Liberation Sans" font-size="12.5" font-weight="bold" letter-spacing="0.52" fill="#a0a0a0" text-anchor="middle">10</text><text transform="translate(608.24 746.4) scale(1.15 1)" font-family="Liberation Sans" font-size="12.5" font-weight="bold" letter-spacing="0.52" fill="#a0a0a0" text-anchor="middle">11</text><text transform="translate(651.4 746.4) scale(1.15 1)" font-family="Liberation Sans" font-size="12.5" font-weight="bold" letter-spacing="0.52" fill="#a0a0a0" text-anchor="middle">12</text><text transform="translate(694.56 746.4) scale(1.15 1)" font-family="Liberation Sans" font-size="12.5" font-weight="bold" letter-spacing="0.52" fill="#a0a0a0" text-anchor="middle">13</text><text transform="translate(737.72 746.4) scale(1.15 1)" font-family="Liberation Sans" font-size="12.5" font-weight="bold" letter-spacing="0.52" fill="#a0a0a0" text-anchor="middle">14</text><text transform="translate(780.88 746.4) scale(1.15 1)" font-family="Liberation Sans" font-size="12.5" font-weight="bold" letter-spacing="0.52" fill="#a0a0a0" text-anchor="middle">15</text><text transform="translate(824.04 746.4) scale(1.15 1)" font-family="Liberation Sans" font-size="12.5" font-weight="bold" letter-spacing="0.52" fill="#a0a0a0" text-anchor="middle">16</text><text transform="translate(867.2 746.4) scale(1.15 1)" font-family="Liberation Sans" font-size="12.5" font-weight="bold" letter-spacing="0.52" fill="#a0a0a0" text-anchor="middle">17</text><text transform="translate(910.36 746.4) scale(1.15 1)" font-family="Liberation Sans" font-size="12.5" font-weight="bold" letter-spacing="0.52" fill="#a0a0a0" text-anchor="middle">18</text><text transform="translate(953.52 746.4) scale(1.15 1)" font-family="Liberation Sans" font-size="12.5" font-weight="bold" letter-spacing="0.52" fill="#a0a0a0" text-anchor="middle">19</text><text transform="translate(66.6 657.7) rotate(-90)" x="0" y="0" font-family="Liberation Sans" font-size="14" font-weight="bold" letter-spacing="0.7" fill="#a0a0a0" text-anchor="middle">daily visitors</text><g transform="translate(1 1)" fill="none" stroke="#000"><path d="M133.18 662.25 L176.34 668.34 L219.5 673.36 L262.66 676.06 L305.82 678.78 L348.98 678.81 L392.14 678.47 L435.3 675.82 L478.46 670.4 L521.62 668.38 L564.78 668.46 L607.94 667.44 L651.1 666.34 L694.26 664.64 L737.42 660.09 L780.58 658.39 L823.74 660.94 L866.9 661.48 L910.06 661.88 L953.22 679.81" stroke-opacity="0.05" stroke-width="5"/><path d="M133.18 662.25 L176.34 668.34 L219.5 673.36 L262.66 676.06 L305.82 678.78 L348.98 678.81 L392.14 678.47 L435.3 675.82 L478.46 670.4 L521.62 668.38 L564.78 668.46 L607.94 667.44 L651.1 666.34 L694.26 664.64 L737.42 660.09 L780.58 658.39 L823.74 660.94 L866.9 661.48 L910.06 661.88 L953.22 679.81" stroke-opacity="0.1" stroke-width="3"/><path d="M133.18 662.25 L176.34 668.34 L219.5 673.36 L262.66 676.06 L305.82 678.78 L348.98 678.81 L392.14 678.47 L435.3 675.82 L478.46 670.4 L521.62 668.38 L564.78 668.46 L607.94 667.44 L651.1 666.34 L694.26 664.64 L737.42 660.09 L780.58 658.39 L823.74 660.94 L866.9 661.48 L910.06 661.88 L953.22 679.81" stroke-opacity="0.15" stroke-width="1"/></g><path d="M133.18 662.25 L176.34 668.34 L219.5 673.36 L262.66 676.06 L305.82 678.78 L348.98 678.81 L392.14 678.47 L435.3 675.82 L478.46 670.4 L521.62 668.38 L564.78 668.46 L607.94 667.44 L651.1 666.34 L694.26 664.64 L737.42 660.09 L780.58 658.39 L823.74 660.94 L866.9 661.48 L910.06 661.88 L953.22 679.81" fill="none" stroke="#e0e000" stroke-width="2"/><circle cx="133.18" cy="662.25" r="4.6" fill="#e0e000"/><circle cx="176.34" cy="668.34" r="4.6" fill="#e0e000"/><circle cx="219.5" cy="673.36" r="4.6" fill="#e0e000"/><circle cx="262.66" cy="676.06" r="4.6" fill="#e0e000"/><circle cx="305.82" cy="678.78" r="4.6" fill="#e0e000"/><circle cx="348.98" cy="678.81" r="4.6" fill="#e0e000"/><circle cx="392.14" cy="678.47" r="4.6" fill="#e0e000"/><circle cx="435.3" cy="675.82" r="4.6" fill="#e0e000"/><circle cx="478.46" cy="670.4" r="4.6" fill="#e0e000"/><circle cx="521.62" cy="668.38" r="4.6" fill="#e0e000"/><circle cx="564.78" cy="668.46" r="4.6" fill="#e0e000"/><circle cx="607.94" cy="667.44" r="4.6" fill="#e0e000"/><circle cx="651.1" cy="666.34" r="4.6" fill="#e0e000"/><circle cx="694.26" cy="664.64" r="4.6" fill="#e0e000"/><circle cx="737.42" cy="660.09" r="4.6" fill="#e0e000"/><circle cx="780.58" cy="658.39" r="4.6" fill="#e0e000"/><circle cx="823.74" cy="660.94" r="4.6" fill="#e0e000"/><circle cx="866.9" cy="661.48" r="4.6" fill="#e0e000"/><circle cx="910.06" cy="661.88" r="4.6" fill="#e0e000"/><circle cx="953.22" cy="679.81" r="4.6" fill="#e0e000"/><g transform="translate(1 1)" fill="none" stroke="#000"><path d="M133.18 599.27 L176.34 623.63 L219.5 640.81 L262.66 652.49 L305.82 666.2 L348.98 668.3 L392.14 666.39 L435.3 657.17 L478.46 635.02 L521.62 627 L564.78 627.61 L607.94 620.79 L651.1 615.67 L694.26 611.33 L737.42 595.16 L780.58 593.71 L823.74 598.54 L866.9 604.79 L910.06 604.07 L953.22 670.99" stroke-opacity="0.05" stroke-width="5"/><path d="M133.18 599.27 L176.34 623.63 L219.5 640.81 L262.66 652.49 L305.82 666.2 L348.98 668.3 L392.14 666.39 L435.3 657.17 L478.46 635.02 L521.62 627 L564.78 627.61 L607.94 620.79 L651.1 615.67 L694.26 611.33 L737.42 595.16 L780.58 593.71 L823.74 598.54 L866.9 604.79 L910.06 604.07 L953.22 670.99" stroke-opacity="0.1" stroke-width="3"/><path d="M133.18 599.27 L176.34 623.63 L219.5 640.81 L262.66 652.49 L305.82 666.2 L348.98 668.3 L392.14 666.39 L435.3 657.17 L478.46 635.02 L521.62 627 L564.78 627.61 L607.94 620.79 L651.1 615.67 L694.26 611.33 L737.42 595.16 L780.58 593.71 L823.74 598.54 L866.9 604.79 L910.06 604.07 L953.22 670.99" stroke-opacity="0.15" stroke-width="1"/></g><path d="M133.18 599.27 L176.34 623.63 L219.5 640.81 L262.66 652.49 L305.82 666.2 L348.98 668.3 L392.14 666.39 L435.3 657.17 L478.46 635.02 L521.62 627 L564.78 627.61 L607.94 620.79 L651.1 615.67 L694.26 611.33 L737.42 595.16 L780.58 593.71 L823.74 598.54 L866.9 604.79 L910.06 604.07 L953.22 670.99" fill="none" stroke="#7798BF" stroke-width="2"/><path d="M133.18 594.27 L138.18 599.27 L133.18 604.27 L128.18 599.27 Z" fill="#7798BF"/><path d="M176.34 618.63 L181.34 623.63 L176.34 628.63 L171.34 623.63 Z" fill="#7798BF"/><path d="M219.5 635.81 L224.5 640.81 L219.5 645.81 L214.5 640.81 Z" fill="#7798BF"/><path d="M262.66 647.49 L267.66 652.49 L262.66 657.49 L257.66 652.49 Z" fill="#7798BF"/><path d="M305.82 661.2 L310.82 666.2 L305.82 671.2 L300.82 666.2 Z" fill="#7798BF"/><path d="M348.98 663.3 L353.98 668.3 L348.98 673.3 L343.98 668.3 Z" fill="#7798BF"/><path d="M392.14 661.39 L397.14 666.39 L392.14 671.39 L387.14 666.39 Z" fill="#7798BF"/><path d="M435.3 652.17 L440.3 657.17 L435.3 662.17 L430.3 657.17 Z" fill="#7798BF"/><path d="M478.46 630.02 L483.46 635.02 L478.46 640.02 L473.46 635.02 Z" fill="#7798BF"/><path d="M521.62 622 L526.62 627 L521.62 632 L516.62 627 Z" fill="#7798BF"/><path d="M564.78 622.61 L569.78 627.61 L564.78 632.61 L559.78 627.61 Z" fill="#7798BF"/><path d="M607.94 615.79 L612.94 620.79 L607.94 625.79 L602.94 620.79 Z" fill="#7798BF"/><path d="M651.1 610.67 L656.1 615.67 L651.1 620.67 L646.1 615.67 Z" fill="#7798BF"/><path d="M694.26 606.33 L699.26 611.33 L694.26 616.33 L689.26 611.33 Z" fill="#7798BF"/><path d="M737.42 590.16 L742.42 595.16 L737.42 600.16 L732.42 595.16 Z" fill="#7798BF"/><path d="M780.58 588.71 L785.58 593.71 L780.58 598.71 L775.58 593.71 Z" fill="#7798BF"/><path d="M823.74 593.54 L828.74 598.54 L823.74 603.54 L818.74 598.54 Z" fill="#7798BF"/><path d="M866.9 599.79 L871.9 604.79 L866.9 609.79 L861.9 604.79 Z" fill="#7798BF"/><path d="M910.06 599.07 L915.06 604.07 L910.06 609.07 L905.06 604.07 Z" fill="#7798BF"/><path d="M953.22 665.99 L958.22 670.99 L953.22 675.99 L948.22 670.99 Z" fill="#7798BF"/><g transform="translate(1 1)" fill="none" stroke="#000"><path d="M133.18 683.07 L176.34 683.07 L219.5 683.07 L262.66 683.07 L305.82 683.07 L348.98 683.07 L392.14 683.07 L435.3 683.07 L478.46 683.07 L521.62 683.07 L564.78 683.07 L607.94 683.07 L651.1 683.07 L694.26 683.07 L737.42 683.07 L780.58 683.07 L823.74 683.07 L866.9 683.07 L910.06 683.07 L953.22 683.07" stroke-opacity="0.05" stroke-width="5"/><path d="M133.18 683.07 L176.34 683.07 L219.5 683.07 L262.66 683.07 L305.82 683.07 L348.98 683.07 L392.14 683.07 L435.3 683.07 L478.46 683.07 L521.62 683.07 L564.78 683.07 L607.94 683.07 L651.1 683.07 L694.26 683.07 L737.42 683.07 L780.58 683.07 L823.74 683.07 L866.9 683.07 L910.06 683.07 L953.22 683.07" stroke-opacity="0.1" stroke-width="3"/><path d="M133.18 683.07 L176.34 683.07 L219.5 683.07 L262.66 683.07 L305.82 683.07 L348.98 683.07 L392.14 683.07 L435.3 683.07 L478.46 683.07 L521.62 683.07 L564.78 683.07 L607.94 683.07 L651.1 683.07 L694.26 683.07 L737.42 683.07 L780.58 683.07 L823.74 683.07 L866.9 683.07 L910.06 683.07 L953.22 683.07" stroke-opacity="0.15" stroke-width="1"/></g><path d="M133.18 683.07 L176.34 683.07 L219.5 683.07 L262.66 683.07 L305.82 683.07 L348.98 683.07 L392.14 683.07 L435.3 683.07 L478.46 683.07 L521.62 683.07 L564.78 683.07 L607.94 683.07 L651.1 683.07 L694.26 683.07 L737.42 683.07 L780.58 683.07 L823.74 683.07 L866.9 683.07 L910.06 683.07 L953.22 683.07" fill="none" stroke="#4fcf32" stroke-width="2"/><rect x="129.98" y="679.87" width="6.4" height="6.4" fill="#4fcf32"/><rect x="173.14" y="679.87" width="6.4" height="6.4" fill="#4fcf32"/><rect x="216.3" y="679.87" width="6.4" height="6.4" fill="#4fcf32"/><rect x="259.46" y="679.87" width="6.4" height="6.4" fill="#4fcf32"/><rect x="302.62" y="679.87" width="6.4" height="6.4" fill="#4fcf32"/><rect x="345.78" y="679.87" width="6.4" height="6.4" fill="#4fcf32"/><rect x="388.94" y="679.87" width="6.4" height="6.4" fill="#4fcf32"/><rect x="432.1" y="679.87" width="6.4" height="6.4" fill="#4fcf32"/><rect x="475.26" y="679.87" width="6.4" height="6.4" fill="#4fcf32"/><rect x="518.42" y="679.87" width="6.4" height="6.4" fill="#4fcf32"/><rect x="561.58" y="679.87" width="6.4" height="6.4" fill="#4fcf32"/><rect x="604.74" y="679.87" width="6.4" height="6.4" fill="#4fcf32"/><rect x="647.9" y="679.87" width="6.4" height="6.4" fill="#4fcf32"/><rect x="691.06" y="679.87" width="6.4" height="6.4" fill="#4fcf32"/><rect x="734.22" y="679.87" width="6.4" height="6.4" fill="#4fcf32"/><rect x="777.38" y="679.87" width="6.4" height="6.4" fill="#4fcf32"/><rect x="820.54" y="679.87" width="6.4" height="6.4" fill="#4fcf32"/><rect x="863.7" y="679.87" width="6.4" height="6.4" fill="#4fcf32"/><rect x="906.86" y="679.87" width="6.4" height="6.4" fill="#4fcf32"/><rect x="950.02" y="679.87" width="6.4" height="6.4" fill="#4fcf32"/><text x="133.48" y="655.05" font-family="Liberation Sans" font-size="13" letter-spacing="0.6" fill="#ddd" text-anchor="middle">2176</text><text x="176.64" y="661.14" font-family="Liberation Sans" font-size="13" letter-spacing="0.6" fill="#ddd" text-anchor="middle">1539</text><text x="219.8" y="666.16" font-family="Liberation Sans" font-size="13" letter-spacing="0.6" fill="#ddd" text-anchor="middle">1015</text><text x="262.96" y="668.86" font-family="Liberation Sans" font-size="13" letter-spacing="0.6" fill="#ddd" text-anchor="middle">732</text><text x="306.12" y="671.58" font-family="Liberation Sans" font-size="13" letter-spacing="0.6" fill="#ddd" text-anchor="middle">448</text><text x="349.28" y="671.61" font-family="Liberation Sans" font-size="13" letter-spacing="0.6" fill="#ddd" text-anchor="middle">445</text><text x="392.44" y="671.27" font-family="Liberation Sans" font-size="13" letter-spacing="0.6" fill="#ddd" text-anchor="middle">480</text><text x="435.6" y="668.62" font-family="Liberation Sans" font-size="13" letter-spacing="0.6" fill="#ddd" text-anchor="middle">758</text><text x="478.76" y="663.2" font-family="Liberation Sans" font-size="13" letter-spacing="0.6" fill="#ddd" text-anchor="middle">1324</text><text x="521.92" y="661.18" font-family="Liberation Sans" font-size="13" letter-spacing="0.6" fill="#ddd" text-anchor="middle">1535</text><text x="565.08" y="661.26" font-family="Liberation Sans" font-size="13" letter-spacing="0.6" fill="#ddd" text-anchor="middle">1527</text><text x="608.24" y="660.24" font-family="Liberation Sans" font-size="13" letter-spacing="0.6" fill="#ddd" text-anchor="middle">1633</text><text x="651.4" y="659.14" font-family="Liberation Sans" font-size="13" letter-spacing="0.6" fill="#ddd" text-anchor="middle">1748</text><text x="694.56" y="657.44" font-family="Liberation Sans" font-size="13" letter-spacing="0.6" fill="#ddd" text-anchor="middle">1926</text><text x="737.72" y="652.89" font-family="Liberation Sans" font-size="13" letter-spacing="0.6" fill="#ddd" text-anchor="middle">2402</text><text x="780.88" y="651.19" font-family="Liberation Sans" font-size="13" letter-spacing="0.6" fill="#ddd" text-anchor="middle">2579</text><text x="824.04" y="653.74" font-family="Liberation Sans" font-size="13" letter-spacing="0.6" fill="#ddd" text-anchor="middle">2313</text><text x="867.2" y="654.28" font-family="Liberation Sans" font-size="13" letter-spacing="0.6" fill="#ddd" text-anchor="middle">2256</text><text x="910.36" y="654.68" font-family="Liberation Sans" font-size="13" letter-spacing="0.6" fill="#ddd" text-anchor="middle">2215</text><text x="953.52" y="672.61" font-family="Liberation Sans" font-size="13" letter-spacing="0.6" fill="#ddd" text-anchor="middle">340</text><text x="133.48" y="592.07" font-family="Liberation Sans" font-size="13" letter-spacing="0.6" fill="#ddd" text-anchor="middle">8759</text><text x="176.64" y="616.43" font-family="Liberation Sans" font-size="13" letter-spacing="0.6" fill="#ddd" text-anchor="middle">6213</text><text x="219.8" y="633.61" font-family="Liberation Sans" font-size="13" letter-spacing="0.6" fill="#ddd" text-anchor="middle">4417</text><text x="262.96" y="645.29" font-family="Liberation Sans" font-size="13" letter-spacing="0.6" fill="#ddd" text-anchor="middle">3196</text><text x="306.12" y="659" font-family="Liberation Sans" font-size="13" letter-spacing="0.6" fill="#ddd" text-anchor="middle">1763</text><text x="349.28" y="661.1" font-family="Liberation Sans" font-size="13" letter-spacing="0.6" fill="#ddd" text-anchor="middle">1544</text><text x="392.44" y="659.19" font-family="Liberation Sans" font-size="13" letter-spacing="0.6" fill="#ddd" text-anchor="middle">1743</text><text x="435.6" y="649.97" font-family="Liberation Sans" font-size="13" letter-spacing="0.6" fill="#ddd" text-anchor="middle">2707</text><text x="478.76" y="627.82" font-family="Liberation Sans" font-size="13" letter-spacing="0.6" fill="#ddd" text-anchor="middle">5022</text><text x="521.92" y="619.8" font-family="Liberation Sans" font-size="13" letter-spacing="0.6" fill="#ddd" text-anchor="middle">5861</text><text x="565.08" y="620.41" font-family="Liberation Sans" font-size="13" letter-spacing="0.6" fill="#ddd" text-anchor="middle">5797</text><text x="608.24" y="613.59" font-family="Liberation Sans" font-size="13" letter-spacing="0.6" fill="#ddd" text-anchor="middle">6510</text><text x="651.4" y="608.47" font-family="Liberation Sans" font-size="13" letter-spacing="0.6" fill="#ddd" text-anchor="middle">7045</text><text x="694.56" y="604.13" font-family="Liberation Sans" font-size="13" letter-spacing="0.6" fill="#ddd" text-anchor="middle">7499</text><text x="737.72" y="587.96" font-family="Liberation Sans" font-size="13" letter-spacing="0.6" fill="#ddd" text-anchor="middle">9189</text><text x="780.88" y="586.51" font-family="Liberation Sans" font-size="13" letter-spacing="0.6" fill="#ddd" text-anchor="middle">9340</text><text x="824.04" y="591.34" font-family="Liberation Sans" font-size="13" letter-spacing="0.6" fill="#ddd" text-anchor="middle">8836</text><text x="867.2" y="597.59" font-family="Liberation Sans" font-size="13" letter-spacing="0.6" fill="#ddd" text-anchor="middle">8182</text><text x="910.36" y="596.87" font-family="Liberation Sans" font-size="13" letter-spacing="0.6" fill="#ddd" text-anchor="middle">8258</text><text x="953.52" y="663.79" font-family="Liberation Sans" font-size="13" letter-spacing="0.6" fill="#ddd" text-anchor="middle">1262</text><text x="133.48" y="675.87" font-family="Liberation Sans" font-size="13" letter-spacing="0.6" fill="#ddd" text-anchor="middle">0</text><text x="176.64" y="675.87" font-family="Liberation Sans" font-size="13" letter-spacing="0.6" fill="#ddd" text-anchor="middle">0</text><text x="219.8" y="675.87" font-family="Liberation Sans" font-size="13" letter-spacing="0.6" fill="#ddd" text-anchor="middle">0</text><text x="262.96" y="675.87" font-family="Liberation Sans" font-size="13" letter-spacing="0.6" fill="#ddd" text-anchor="middle">0</text><text x="306.12" y="675.87" font-family="Liberation Sans" font-size="13" letter-spacing="0.6" fill="#ddd" text-anchor="middle">0</text><text x="349.28" y="675.87" font-family="Liberation Sans" font-size="13" letter-spacing="0.6" fill="#ddd" text-anchor="middle">0</text><text x="392.44" y="675.87" font-family="Liberation Sans" font-size="13" letter-spacing="0.6" fill="#ddd" text-anchor="middle">0</text><text x="435.6" y="675.87" font-family="Liberation Sans" font-size="13" letter-spacing="0.6" fill="#ddd" text-anchor="middle">0</text><text x="478.76" y="675.87" font-family="Liberation Sans" font-size="13" letter-spacing="0.6" fill="#ddd" text-anchor="middle">0</text><text x="521.92" y="675.87" font-family="Liberation Sans" font-size="13" letter-spacing="0.6" fill="#ddd" text-anchor="middle">0</text><text x="565.08" y="675.87" font-family="Liberation Sans" font-size="13" letter-spacing="0.6" fill="#ddd" text-anchor="middle">0</text><text x="608.24" y="675.87" font-family="Liberation Sans" font-size="13" letter-spacing="0.6" fill="#ddd" text-anchor="middle">0</text><text x="651.4" y="675.87" font-family="Liberation Sans" font-size="13" letter-spacing="0.6" fill="#ddd" text-anchor="middle">0</text><text x="694.56" y="675.87" font-family="Liberation Sans" font-size="13" letter-spacing="0.6" fill="#ddd" text-anchor="middle">0</text><text x="737.72" y="675.87" font-family="Liberation Sans" font-size="13" letter-spacing="0.6" fill="#ddd" text-anchor="middle">0</text><text x="780.88" y="675.87" font-family="Liberation Sans" font-size="13" letter-spacing="0.6" fill="#ddd" text-anchor="middle">0</text><text x="824.04" y="675.87" font-family="Liberation Sans" font-size="13" letter-spacing="0.6" fill="#ddd" text-anchor="middle">0</text><text x="867.2" y="675.87" font-family="Liberation Sans" font-size="13" letter-spacing="0.6" fill="#ddd" text-anchor="middle">0</text><text x="910.36" y="675.87" font-family="Liberation Sans" font-size="13" letter-spacing="0.6" fill="#ddd" text-anchor="middle">0</text><text x="953.52" y="675.87" font-family="Liberation Sans" font-size="13" letter-spacing="0.6" fill="#ddd" text-anchor="middle">0</text><rect x="364.6" y="759.9" width="294.2" height="27.5" rx="5" ry="5" fill="none" stroke="#909090" stroke-width="1"/><rect x="373.8" y="773.3" width="18" height="2" fill="#e0e000"/><circle cx="382.8" cy="774.3" r="4.3" fill="#e0e000"/><text x="397.7" y="778.7" font-family="Liberation Sans" font-size="13.5" letter-spacing="0.1" fill="#ddd">Uniqe</text><rect x="439.7" y="773.3" width="18" height="2" fill="#7798BF"/><path d="M448.7 769.8 L453.2 774.3 L448.7 778.8 L444.2 774.3 Z" fill="#7798BF"/><text x="464" y="778.7" font-family="Liberation Sans" font-size="13.5" letter-spacing="0.1" fill="#ddd">Page view</text><rect x="532.6" y="773.3" width="18" height="2" fill="#4fcf32"/><rect x="538.2" y="771.1" width="6.4" height="6.4" fill="#4fcf32"/><text x="556.4" y="778.7" font-family="Liberation Sans" font-size="13.5" letter-spacing="0.35" fill="#ddd">Duration in site</text><rect x="919.3" y="537.2" width="25.2" height="21.3" rx="3.5" ry="3.5" fill="url(#bt)" stroke="#d8d8d8" stroke-width="0.8"/><rect x="948.1" y="537.2" width="25.2" height="21.3" rx="3.5" ry="3.5" fill="url(#bt)" stroke="#d8d8d8" stroke-width="0.8"/><g fill="#a6b2b6"><rect x="927.9" y="541.2" width="8" height="5.2"/><rect x="924.3" y="546.2" width="15.1" height="6.2" rx="1.2"/><rect x="926.2" y="552.2" width="10.8" height="4.1"/></g><g fill="#78c4f4"><rect x="930.3" y="543.6" width="2" height="1.2"/><rect x="926.1" y="548.2" width="1.6" height="1.3"/><rect x="927.7" y="550" width="2.2" height="1.1"/><rect x="930.7" y="549.3" width="1.8" height="1.1"/><rect x="934.2" y="548.4" width="1.3" height="1.3"/><rect x="935.1" y="550" width="1.5" height="1.2"/><rect x="929.4" y="554.3" width="1.6" height="0.9"/><rect x="932.3" y="554.3" width="1.6" height="0.9"/></g><g fill="#a9b08a"><rect x="959.4" y="541.4" width="3.1" height="6.6" rx="1"/><path d="M957.1 547.2 L964.3 547.2 L960.9 551.6 Z" stroke="#a9b08a" stroke-width="1.2" stroke-linejoin="round"/><rect x="953.4" y="551.4" width="15.1" height="5.1" rx="2"/></g><circle cx="960.5" cy="549.5" r="0.8" fill="#e8e050"/><rect x="37" y="862.2" width="948.4" height="278.7" rx="16" ry="16" fill="url(#g)"/><text x="511.2" y="889.8" font-family="Liberation Sans" font-size="18.5" letter-spacing="0.6" fill="#fff" text-anchor="middle">Montly chat statistics</text><text x="511.2" y="906.8" font-family="Liberation Sans" font-size="12.5" letter-spacing="0.9" fill="#ccc" text-anchor="middle">vc4site.com</text><rect x="919.3" y="874.2" width="25.2" height="21.3" rx="3.5" ry="3.5" fill="url(#bt)" stroke="#d8d8d8" stroke-width="0.8"/><rect x="948.1" y="874.2" width="25.2" height="21.3" rx="3.5" ry="3.5" fill="url(#bt)" stroke="#d8d8d8" stroke-width="0.8"/><g fill="#a6b2b6"><rect x="927.9" y="878.2" width="8" height="5.2"/><rect x="924.3" y="883.2" width="15.1" height="6.2" rx="1.2"/><rect x="926.2" y="889.2" width="10.8" height="4.1"/></g><g fill="#78c4f4"><rect x="930.3" y="880.6" width="2" height="1.2"/><rect x="926.1" y="885.2" width="1.6" height="1.3"/><rect x="927.7" y="887" width="2.2" height="1.1"/><rect x="930.7" y="886.3" width="1.8" height="1.1"/><rect x="934.2" y="885.4" width="1.3" height="1.3"/><rect x="935.1" y="887" width="1.5" height="1.2"/><rect x="929.4" y="891.3" width="1.6" height="0.9"/><rect x="932.3" y="891.3" width="1.6" height="0.9"/></g><g fill="#a9b08a"><rect x="959.4" y="878.4" width="3.1" height="6.6" rx="1"/><path d="M957.1 884.2 L964.3 884.2 L960.9 888.6 Z" stroke="#a9b08a" stroke-width="1.2" stroke-linejoin="round"/><rect x="953.4" y="888.4" width="15.1" height="5.1" rx="2"/></g><circle cx="960.5" cy="886.5" r="0.8" fill="#e8e050"/><rect x="128.2" y="924" width="845.8" height="1" fill="#6a6a6a"/><rect x="128.2" y="971.9" width="845.8" height="1" fill="#6a6a6a"/><text transform="translate(120.6 929.5) scale(1.15 1)" font-family="Liberation Sans" font-size="12.5" font-weight="bold" letter-spacing="0.52" fill="#a0a0a0" text-anchor="end">200k</text><text transform="translate(120.6 977.4) scale(1.15 1)" font-family="Liberation Sans" font-size="12.5" font-weight="bold" letter-spacing="0.52" fill="#a0a0a0" text-anchor="end">100k</text><text transform="translate(67 927) rotate(-90)" x="0" y="0" font-family="Liberation Sans" font-size="14" font-weight="bold" letter-spacing="0.4" fill="#a0a0a0" text-anchor="end">visitors</text><g transform="translate(1 1)" fill="none" stroke="#000"><path d="M198.68 950.63 L339.65 953.9 L480.62 953.58 L621.58 963.88 L762.55 969.51 L903.52 966.1" stroke-opacity="0.05" stroke-width="5"/><path d="M198.68 950.63 L339.65 953.9 L480.62 953.58 L621.58 963.88 L762.55 969.51 L903.52 966.1" stroke-opacity="0.1" stroke-width="3"/><path d="M198.68 950.63 L339.65 953.9 L480.62 953.58 L621.58 963.88 L762.55 969.51 L903.52 966.1" stroke-opacity="0.15" stroke-width="1"/></g><path d="M198.68 950.63 L339.65 953.9 L480.62 953.58 L621.58 963.88 L762.55 969.51 L903.52 966.1" fill="none" stroke="#7798BF" stroke-width="2"/><path d="M198.68 945.63 L203.68 950.63 L198.68 955.63 L193.68 950.63 Z" fill="#7798BF"/><text x="198.98" y="943.43" font-family="Liberation Sans" font-size="13" letter-spacing="0.4" fill="#ddd" text-anchor="middle">145440</text><path d="M339.65 948.9 L344.65 953.9 L339.65 958.9 L334.65 953.9 Z" fill="#7798BF"/><text x="339.95" y="946.7" font-family="Liberation Sans" font-size="13" letter-spacing="0.4" fill="#ddd" text-anchor="middle">138628</text><path d="M480.62 948.58 L485.62 953.58 L480.62 958.58 L475.62 953.58 Z" fill="#7798BF"/><text x="480.92" y="946.38" font-family="Liberation Sans" font-size="13" letter-spacing="0.4" fill="#ddd" text-anchor="middle">139293</text><path d="M621.58 958.88 L626.58 963.88 L621.58 968.88 L616.58 963.88 Z" fill="#7798BF"/><text x="621.88" y="956.68" font-family="Liberation Sans" font-size="13" letter-spacing="0.4" fill="#ddd" text-anchor="middle">117789</text><path d="M762.55 964.51 L767.55 969.51 L762.55 974.51 L757.55 969.51 Z" fill="#7798BF"/><text x="762.85" y="962.31" font-family="Liberation Sans" font-size="13" letter-spacing="0.4" fill="#ddd" text-anchor="middle">106037</text><path d="M903.52 961.1 L908.52 966.1 L903.52 971.1 L898.52 966.1 Z" fill="#7798BF"/><text x="903.82" y="958.9" font-family="Liberation Sans" font-size="13" letter-spacing="0.4" fill="#ddd" text-anchor="middle">113143</text></svg>
</body></html>
